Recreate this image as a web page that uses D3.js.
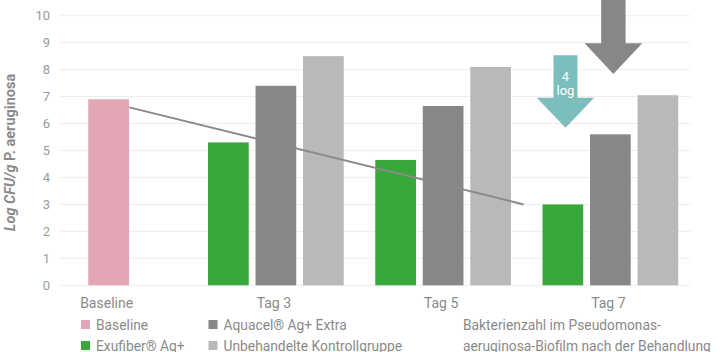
<!DOCTYPE html>
<html>
<head>
<meta charset="utf-8">
<script src="https://cdn.jsdelivr.net/npm/d3@7"></script>
<style>
  body { margin: 0; background: #fff; }
  svg text { font-family: Roboto, "DejaVu Sans", sans-serif; fill: #8a8a8a; }
</style>
</head>
<body>
<div id="root"></div>
<script>
// data
const categories = ["Baseline", "Tag 3", "Tag 5", "Tag 7"];
const series = ["Exufiber® Ag+", "Aquacel® Ag+ Extra", "Unbehandelte Kontrollgruppe"];
const baselineValue = 6.9;
const exufiber = [5.3, 4.65, 3.0];
const aquacel = [7.4, 6.65, 5.6];
const kontrolle = [8.5, 8.1, 7.05];
const yTicks = [0, 1, 2, 3, 4, 5, 6, 7, 8, 9, 10];
const trend = [6.6, 3.0];

const COLOR = {
  "Baseline": "#e2a6b4",
  "Exufiber® Ag+": "#38a83b",
  "Aquacel® Ag+ Extra": "#888687",
  "Unbehandelte Kontrollgruppe": "#b9b9b9"
};

const width = 720, height = 352;

const svg = d3.select("#root").append("svg")
  .attr("width", width)
  .attr("height", height);

const y = d3.scaleLinear().domain([0, 10]).range([285.3, 15.7]);

const x0 = d3.scaleBand()
  .domain(categories)
  .range([25, 694])
  .padding(0);

const x1 = d3.scaleBand()
  .domain(series)
  .range([0, 135.7])
  .paddingInner(0.143)
  .paddingOuter(0);

const groupLeft = c => x0(c) + x0.bandwidth() / 2 - 67.85;
const bw = x1.bandwidth();

// grid
svg.append("g")
  .selectAll("line")
  .data(yTicks)
  .join("line")
  .attr("x1", 60).attr("x2", 690)
  .attr("y1", d => y(d)).attr("y2", d => y(d))
  .attr("stroke", "#ededed")
  .attr("stroke-width", 1);

// y tick labels
svg.append("g")
  .selectAll("text")
  .data(yTicks)
  .join("text")
  .attr("x", 50)
  .attr("y", d => y(d) + 4.5)
  .attr("text-anchor", "end")
  .style("font-size", "13px")
  .style("fill", "#9a9a9a")
  .text(d => d);

// y axis title
const yt = svg.append("text")
  .attr("transform", `translate(15, ${(y(0) + y(10)) / 2 + 2}) rotate(-90)`)
  .attr("text-anchor", "middle")
  .style("font-size", "14.5px")
  .style("font-weight", "bold")
  .style("fill", "#8a8a8a");
yt.append("tspan").style("font-style", "italic").text("Log CFU/g ");
yt.append("tspan").text("P. aeruginosa");

// baseline bar (sits in the middle slot)
svg.append("rect")
  .attr("x", groupLeft("Baseline") + x1(series[1]))
  .attr("y", y(baselineValue))
  .attr("width", bw)
  .attr("height", y(0) - y(baselineValue))
  .attr("fill", COLOR["Baseline"]);

// grouped bars
const tags = categories.slice(1);
const rows = tags.map((t, i) => ({
  tag: t,
  values: [
    { key: series[0], v: exufiber[i] },
    { key: series[1], v: aquacel[i] },
    { key: series[2], v: kontrolle[i] }
  ]
}));

svg.append("g")
  .selectAll("g")
  .data(rows)
  .join("g")
  .attr("transform", d => `translate(${groupLeft(d.tag)},0)`)
  .selectAll("rect")
  .data(d => d.values)
  .join("rect")
  .attr("x", d => x1(d.key))
  .attr("y", d => y(d.v))
  .attr("width", bw)
  .attr("height", d => y(0) - y(d.v))
  .attr("fill", d => COLOR[d.key]);

// trend line
svg.append("line")
  .attr("x1", groupLeft("Baseline") + x1(series[2]) - 6.5)
  .attr("y1", y(trend[0]))
  .attr("x2", groupLeft("Tag 5") + x1(series[2]) + bw + 12.6)
  .attr("y2", y(trend[1]))
  .attr("stroke", "#8a8a8a")
  .attr("stroke-width", 2);

// arrows
function arrow(cx, top, headY, tipY, shaftHalf, headHalf, color) {
  const p = d3.path();
  p.moveTo(cx - shaftHalf, top);
  p.lineTo(cx + shaftHalf, top);
  p.lineTo(cx + shaftHalf, headY);
  p.lineTo(cx + headHalf, headY);
  p.lineTo(cx, tipY);
  p.lineTo(cx - headHalf, headY);
  p.lineTo(cx - shaftHalf, headY);
  p.closePath();
  svg.append("path").attr("d", p.toString()).attr("fill", color);
}

const tealX = groupLeft("Tag 7") + x1(series[0]) + bw / 2 + 2.6;
arrow(tealX, y(8.53), y(6.96), y(5.84), 12, 28.7, "#7bbebc");
const grayX = groupLeft("Tag 7") + x1(series[1]) + bw / 2 + 3;
arrow(grayX, 0, y(8.98), y(7.84), 12.2, 28.8, "#888687");

const arrowLabel = svg.append("text")
  .attr("x", tealX).attr("y", 81)
  .attr("text-anchor", "middle")
  .style("font-size", "13px")
  .style("fill", "#fff");
arrowLabel.append("tspan").attr("x", tealX).text("4");
arrowLabel.append("tspan").attr("x", tealX).attr("dy", 14).text("log");

// x labels
svg.append("g")
  .selectAll("text")
  .data(categories)
  .join("text")
  .attr("x", d => x0(d) + x0.bandwidth() / 2 - 2)
  .attr("y", 308)
  .attr("text-anchor", "middle")
  .style("font-size", "14px")
  .text(d => d);

// legend
const legendItems = [
  { key: "Baseline", col: 0, row: 0 },
  { key: series[0], col: 0, row: 1 },
  { key: series[1], col: 1, row: 0 },
  { key: series[2], col: 1, row: 1 }
];
const colX = [81, 208.5];
const rowY = [320, 341];

const lg = svg.append("g")
  .selectAll("g")
  .data(legendItems)
  .join("g")
  .attr("transform", d => `translate(${colX[d.col]},${rowY[d.row]})`);
lg.append("rect")
  .attr("width", 9).attr("height", 9)
  .attr("fill", d => COLOR[d.key]);
lg.append("text")
  .attr("x", 15).attr("y", 9.5)
  .style("font-size", "13.8px")
  .text(d => d.key);

svg.append("text")
  .attr("x", 463).attr("y", 329.5)
  .style("font-size", "13.8px")
  .text("Bakterienzahl im Pseudomonas-");
svg.append("text")
  .attr("x", 463).attr("y", 350.5)
  .style("font-size", "13.8px")
  .text("aeruginosa-Biofilm nach der Behandlung");
</script>
</body>
</html>
